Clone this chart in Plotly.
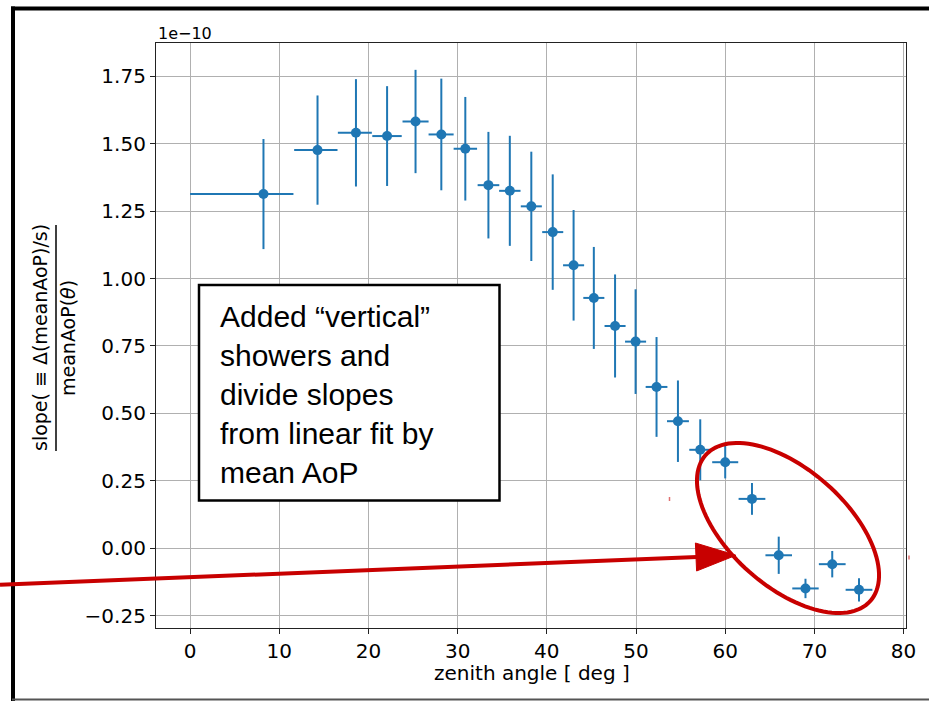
import math
import plotly.graph_objects as go

# ---- data (slope values in units of 1e-10) ----
zenith = [8.23, 14.29, 18.6, 22.09, 25.28, 28.17, 30.86, 33.45, 35.85, 38.26, 40.66, 43.0,
          45.27, 47.65, 49.95, 52.3, 54.7, 57.2, 60.0, 63.0, 66.0, 69.0, 72.0, 75.0]
zenith_err_minus = [8.23, 2.62, 2.03, 1.66, 1.46, 1.43, 1.31, 1.21, 1.2, 1.18, 1.18, 1.18,
                    1.18, 1.18, 1.18, 1.22, 1.23, 1.23, 1.46, 1.5, 1.49, 1.48, 1.5, 1.5]
zenith_err_plus = [3.36, 2.24, 1.78, 1.64, 1.46, 1.38, 1.32, 1.22, 1.2, 1.18, 1.18, 1.18,
                   1.18, 1.18, 1.18, 1.22, 1.23, 1.23, 1.46, 1.5, 1.49, 1.48, 1.5, 1.5]
slope = [1.313, 1.476, 1.540, 1.528, 1.582, 1.534, 1.481, 1.346, 1.325, 1.2675, 1.172, 1.049,
         0.928, 0.824, 0.766, 0.598, 0.471, 0.365, 0.319, 0.183, -0.026, -0.149, -0.059, -0.154]
slope_err = [0.204, 0.2025, 0.199, 0.185, 0.1915, 0.207, 0.192, 0.1975, 0.204, 0.2026, 0.214, 0.205,
             0.189, 0.191, 0.194, 0.185, 0.151, 0.113, 0.060, 0.059, 0.069, 0.036, 0.049, 0.043]
x_ticks = [0, 10, 20, 30, 40, 50, 60, 70, 80]
y_ticks = [-0.25, 0.0, 0.25, 0.5, 0.75, 1.0, 1.25, 1.5, 1.75]
scale_label = "1e\u221210"
x_title = "zenith angle [ deg ]"
y_num = "slope( \u2261 \u0394(meanAoP)/s)"
y_den = "meanAoP(<i>\u03b8</i>)"
note_text = "Added \u201cvertical\u201d<br>showers and<br>divide slopes<br>from linear fit by<br>mean AoP"

W, H = 929, 701
L, R, T, B = 156, 906, 43, 628

def px(xp):
    return (xp - L) / (R - L)

def py(yp):
    return (B - yp) / (B - T)

BLUE = "#1f77b4"
RED = "#c80000"
FONT = "DejaVu Sans"

fig = go.Figure()
fig.add_trace(go.Scatter(
    x=zenith, y=slope, mode="markers",
    marker=dict(color=BLUE, size=10),
    error_y=dict(type="data", array=slope_err, visible=True, color=BLUE, thickness=2, width=0),
    error_x=dict(type="data", symmetric=False, array=zenith_err_plus, arrayminus=zenith_err_minus,
                 visible=True, color=BLUE, thickness=2, width=0),
    showlegend=False,
))

axis_common = dict(
    showline=True, linecolor="#222222", linewidth=1.2, mirror=True,
    ticks="outside", ticklen=5, tickwidth=1.2, tickcolor="#222222",
    showgrid=True, gridcolor="#b0b0b0", gridwidth=1.2, zeroline=False,
    tickfont=dict(family=FONT, size=20, color="black"),
)
fig.update_xaxes(range=[-3.82, 80.27], tickvals=x_ticks, ticktext=[str(v) for v in x_ticks], **axis_common)
fig.update_yaxes(range=[-0.2956, 1.873], tickvals=y_ticks, tickformat=".2f", **axis_common)

shapes = []
# frame of the slide
shapes.append(dict(type="line", xref="paper", yref="paper", x0=px(11), x1=px(929), y0=py(8.5), y1=py(8.5),
                   line=dict(color="black", width=4), layer="above"))
shapes.append(dict(type="line", xref="paper", yref="paper", x0=px(13), x1=px(13), y0=py(6.5), y1=py(701),
                   line=dict(color="black", width=4), layer="above"))
shapes.append(dict(type="line", xref="paper", yref="paper", x0=px(12), x1=px(929), y0=py(699.5), y1=py(699.5),
                   line=dict(color="#555555", width=2), layer="above"))
# y label fraction bar
shapes.append(dict(type="line", xref="paper", yref="paper", x0=px(56), x1=px(56), y0=py(225), y1=py(451),
                   line=dict(color="black", width=1.5), layer="above"))
# text box
shapes.append(dict(type="rect", xref="paper", yref="paper", x0=px(199), x1=px(499.5), y0=py(285), y1=py(500.5),
                   line=dict(color="black", width=2.5), fillcolor="white", layer="above"))
# ellipse
cx, cy, a, b, th = 788, 528, 110, 58.5, math.radians(41.5)
pts = []
for i in range(121):
    t = 2 * math.pi * i / 120
    ex = cx + a * math.cos(th) * math.cos(t) - b * math.sin(th) * math.sin(t)
    ey = cy + a * math.sin(th) * math.cos(t) + b * math.cos(th) * math.sin(t)
    pts.append(f"{px(ex):.5f},{py(ey):.5f}")
shapes.append(dict(type="path", xref="paper", yref="paper", path="M " + " L ".join(pts) + " Z",
                   line=dict(color=RED, width=4), layer="above"))
# arrow shaft and head
shapes.append(dict(type="line", xref="paper", yref="paper", x0=px(0), y0=py(584.8), x1=px(697), y1=py(556.9),
                   line=dict(color=RED, width=4), layer="above"))
head = f"M {px(695.4):.5f},{py(543):.5f} L {px(736):.5f},{py(555.3):.5f} L {px(696.6):.5f},{py(571):.5f} Z"
shapes.append(dict(type="path", xref="paper", yref="paper", path=head,
                   line=dict(color=RED, width=1), fillcolor=RED, layer="above"))
# tiny red marks
for (mx, my) in [(669.5, 499), (909, 557.5)]:
    shapes.append(dict(type="line", xref="paper", yref="paper", x0=px(mx), x1=px(mx), y0=py(my - 2), y1=py(my + 2),
                       line=dict(color="#e07070", width=1.5), layer="above"))

annotations = [
    dict(text=scale_label, xref="paper", yref="paper", x=px(155.5), y=py(33.5), xanchor="left", yanchor="middle",
         showarrow=False, font=dict(family=FONT, size=16, color="black")),
    dict(text=x_title, xref="paper", yref="paper", x=px(531.5), y=py(673), xanchor="center", yanchor="middle",
         showarrow=False, font=dict(family=FONT, size=20, color="black")),
    dict(text=y_num, xref="paper", yref="paper", x=px(40), y=py(338), xanchor="center", yanchor="middle",
         textangle=-90, showarrow=False, font=dict(family=FONT, size=19, color="black")),
    dict(text=y_den, xref="paper", yref="paper", x=px(68), y=py(338), xanchor="center", yanchor="middle",
         textangle=-90, showarrow=False, font=dict(family=FONT, size=19, color="black")),
    dict(text=note_text, xref="paper", yref="paper", x=px(218), y=py(394), xanchor="left", yanchor="middle",
         align="left", showarrow=False, font=dict(family="Liberation Sans", size=30, color="black")),
]

fig.update_layout(
    width=W, height=H, autosize=False,
    margin=dict(l=L, r=W - R, t=T, b=H - B, pad=0),
    paper_bgcolor="white", plot_bgcolor="white",
    shapes=shapes, annotations=annotations,
    font=dict(family=FONT, color="black"),
)

fig.write_html("out.html")
